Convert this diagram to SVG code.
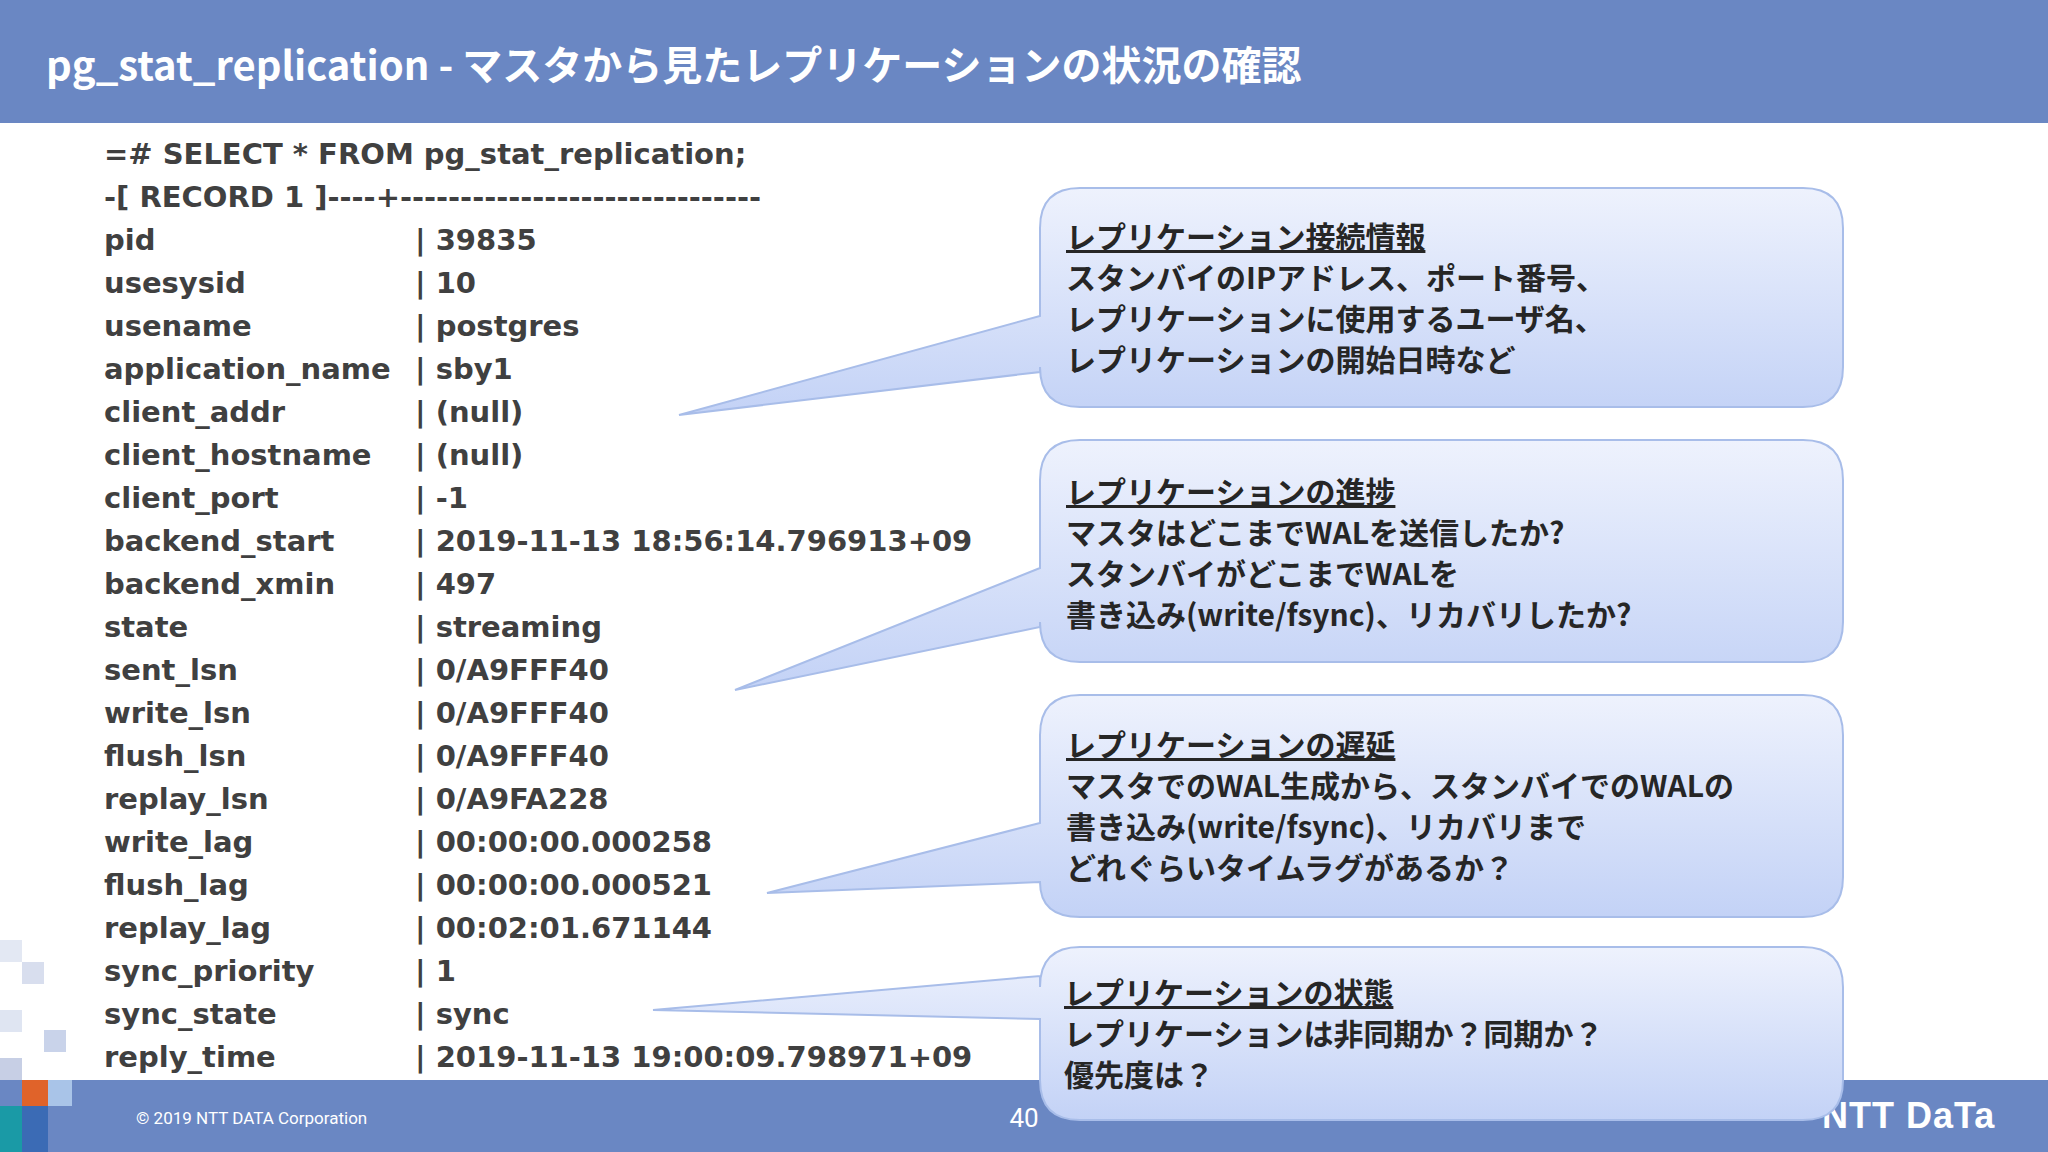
<svg xmlns="http://www.w3.org/2000/svg" width="2048" height="1152" viewBox="0 0 2048 1152">
<defs>
<linearGradient id="g" x1="0" y1="0" x2="0" y2="1">
<stop offset="0" stop-color="#eef2fd"/><stop offset="1" stop-color="#c3d2f6"/>
</linearGradient>
<style>
.code{font-family:"DejaVu Sans","Noto Sans CJK JP",sans-serif;font-weight:bold;font-size:29px;fill:#404040}
.ct{font-family:"Noto Sans CJK JP",sans-serif;font-weight:bold;font-size:30px;fill:#262626}
.h{text-decoration:underline}
.box{fill:url(#g);stroke:#a8bde9;stroke-width:2}
</style>
</defs>
<rect width="2048" height="1152" fill="#fff"/>
<rect width="2048" height="123" fill="#6a87c3"/>
<text x="46" y="80" font-family="Noto Sans CJK JP,sans-serif" font-weight="bold" font-size="40" fill="#fff">pg_stat_replication - マスタから見たレプリケーションの状況の確認</text>
<rect y="1080" width="2048" height="72" fill="#6a87c3"/>
<g id="mosaic">
<rect x="0" y="940" width="22" height="22" fill="#e3e8f3"/><rect x="22" y="962" width="22" height="22" fill="#d8deee"/>
<rect x="0" y="1010" width="22" height="22" fill="#dfe5f2"/><rect x="44" y="1030" width="22" height="22" fill="#c9d3ea"/>
<rect x="0" y="1058" width="22" height="22" fill="#c7cfe5"/><rect x="22" y="1080" width="26" height="26" fill="#e0632a"/>
<rect x="0" y="1106" width="22" height="46" fill="#1a9aa6"/><rect x="48" y="1080" width="24" height="26" fill="#a9c4e8"/>
<rect x="22" y="1106" width="26" height="46" fill="#3b6bb5"/>
</g>
<text x="136" y="1124" font-family="Roboto,sans-serif" font-size="17" fill="#fff">© 2019 NTT DATA Corporation</text>
<text x="1024" y="1127" text-anchor="middle" font-family="Roboto,sans-serif" font-size="26" fill="#fff">40</text>
<text x="1822" y="1128" font-family="Liberation Sans,sans-serif" font-weight="bold" font-size="36" fill="#fff" letter-spacing="1">NTT DaTa</text>
<g id="code" class="code">
<text x="104" y="164">=# SELECT * FROM pg_stat_replication;</text>
<text x="104" y="207">-[ RECORD 1 ]----+------------------------------</text>
<g>
<text x="104" y="250">pid</text><text x="415" y="250">| 39835</text>
<text x="104" y="293">usesysid</text><text x="415" y="293">| 10</text>
<text x="104" y="336">usename</text><text x="415" y="336">| postgres</text>
<text x="104" y="379">application_name</text><text x="415" y="379">| sby1</text>
<text x="104" y="422">client_addr</text><text x="415" y="422">| (null)</text>
<text x="104" y="465">client_hostname</text><text x="415" y="465">| (null)</text>
<text x="104" y="508">client_port</text><text x="415" y="508">| -1</text>
<text x="104" y="551">backend_start</text><text x="415" y="551">| 2019-11-13 18:56:14.796913+09</text>
<text x="104" y="594">backend_xmin</text><text x="415" y="594">| 497</text>
<text x="104" y="637">state</text><text x="415" y="637">| streaming</text>
<text x="104" y="680">sent_lsn</text><text x="415" y="680">| 0/A9FFF40</text>
<text x="104" y="723">write_lsn</text><text x="415" y="723">| 0/A9FFF40</text>
<text x="104" y="766">flush_lsn</text><text x="415" y="766">| 0/A9FFF40</text>
<text x="104" y="809">replay_lsn</text><text x="415" y="809">| 0/A9FA228</text>
<text x="104" y="852">write_lag</text><text x="415" y="852">| 00:00:00.000258</text>
<text x="104" y="895">flush_lag</text><text x="415" y="895">| 00:00:00.000521</text>
<text x="104" y="938">replay_lag</text><text x="415" y="938">| 00:02:01.671144</text>
<text x="104" y="981">sync_priority</text><text x="415" y="981">| 1</text>
<text x="104" y="1024">sync_state</text><text x="415" y="1024">| sync</text>
<text x="104" y="1067">reply_time</text><text x="415" y="1067">| 2019-11-13 19:00:09.798971+09</text>
</g>
</g>
<g id="connectors"></g>
<g id="c1">
<path class="box" d="M1080,188 H1803 Q1843,188 1843,228 V367 Q1843,407 1803,407 H1080 Q1040,407 1040,367 V372 L679,415 L1040,316 V228 Q1040,188 1080,188 Z"/>
<text class="ct" x="1066" y="248"><tspan class="h">レプリケーション接続情報</tspan></text>
<text class="ct" x="1066" y="289">スタンバイのIPアドレス、ポート番号、</text>
<text class="ct" x="1066" y="330">レプリケーションに使用するユーザ名、</text>
<text class="ct" x="1066" y="371">レプリケーションの開始日時など</text>
</g>
<g id="c2">
<path class="box" d="M1080,440 H1803 Q1843,440 1843,480 V622 Q1843,662 1803,662 H1080 Q1040,662 1040,622 V627 L735,690 L1040,568 V480 Q1040,440 1080,440 Z"/>
<text class="ct" x="1066" y="503"><tspan class="h">レプリケーションの進捗</tspan></text>
<text class="ct" x="1066" y="544">マスタはどこまでWALを送信したか?</text>
<text class="ct" x="1066" y="585">スタンバイがどこまでWALを</text>
<text class="ct" x="1066" y="626">書き込み(write/fsync)、リカバリしたか?</text>
</g>
<g id="c3">
<path class="box" d="M1080,695 H1803 Q1843,695 1843,735 V877 Q1843,917 1803,917 H1080 Q1040,917 1040,882 L767,893 L1040,823 V735 Q1040,695 1080,695 Z"/>
<text class="ct" x="1066" y="756"><tspan class="h">レプリケーションの遅延</tspan></text>
<text class="ct" x="1066" y="797">マスタでのWAL生成から、スタンバイでのWALの</text>
<text class="ct" x="1066" y="838">書き込み(write/fsync)、リカバリまで</text>
<text class="ct" x="1066" y="879">どれぐらいタイムラグがあるか？</text>
</g>
<g id="c4">
<path class="box" d="M1080,947 H1803 Q1843,947 1843,987 V1080 Q1843,1120 1803,1120 H1080 Q1040,1120 1040,1080 V1019 L653,1010 L1040,976 V987 Q1040,947 1080,947 Z"/>
<text class="ct" x="1064" y="1004"><tspan class="h">レプリケーションの状態</tspan></text>
<text class="ct" x="1064" y="1045">レプリケーションは非同期か？同期か？</text>
<text class="ct" x="1064" y="1086">優先度は？</text>
</g>
</svg>
